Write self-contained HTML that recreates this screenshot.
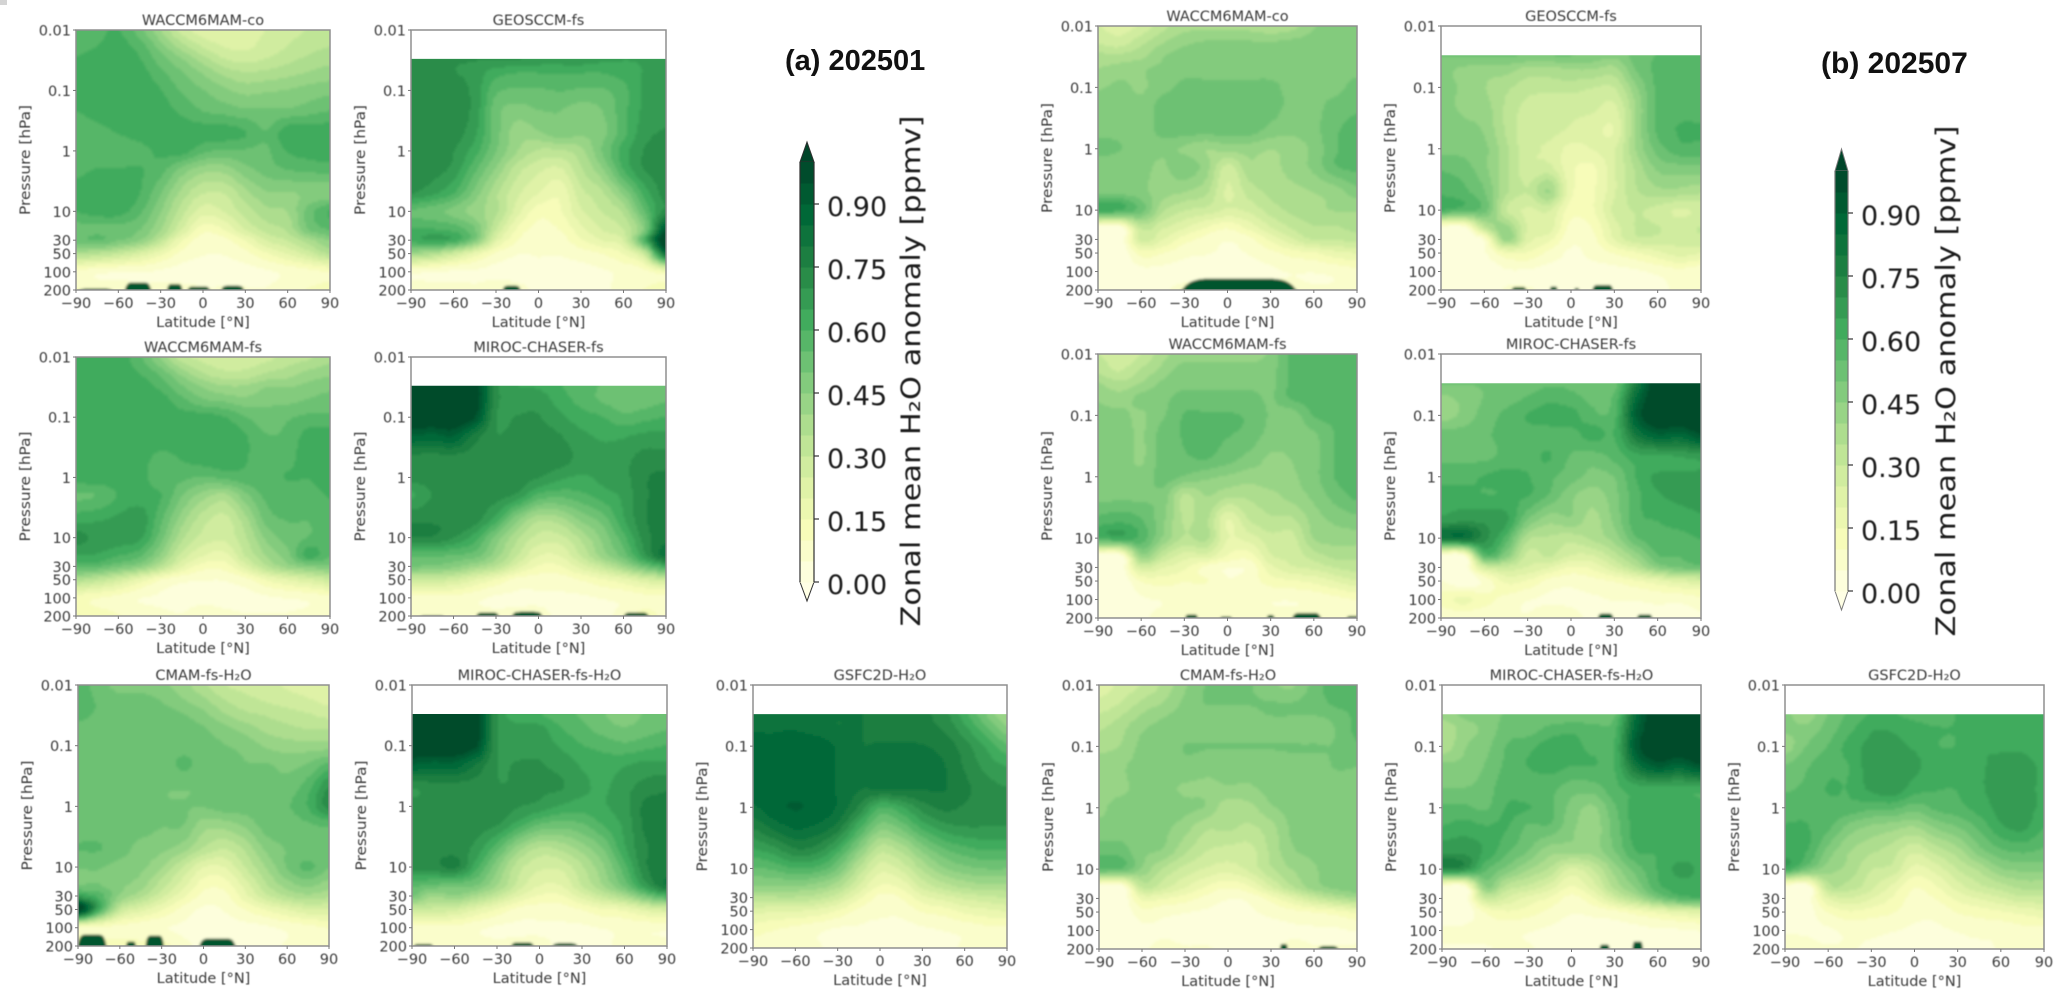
<!DOCTYPE html>
<html lang="en">
<head>
<meta charset="utf-8">
<title>Zonal mean H2O anomaly</title>
<style>
html,body{margin:0;padding:0;background:#fff;width:2067px;height:997px;overflow:hidden}
svg{display:block}
.ax{font-family:"DejaVu Sans","Liberation Sans",sans-serif;font-size:14.5px;fill:#3a3a3a;filter:blur(.4px)}
.cb{font-family:"DejaVu Sans","Liberation Sans",sans-serif;font-size:27px;fill:#1c1c1c;filter:blur(.4px)}
.hd{font-family:"Liberation Sans",sans-serif;font-weight:bold;font-size:29px;fill:#111;filter:blur(.3px)}
</style>
</head>
<body>
<svg id="figure" xmlns="http://www.w3.org/2000/svg" width="2067" height="997" viewBox="0 0 2067 997">
<defs>
<filter id="soft" filterUnits="userSpaceOnUse" x="0" y="0" width="2067" height="997"><feGaussianBlur stdDeviation="1.2"/></filter>
</defs>
<rect width="2067" height="997" fill="#fff"/>
<rect x="0" y="0" width="7" height="5" fill="#d4d4d4"/>
<text class="hd" x="785" y="70">(a) 202501</text>
<text class="hd" x="1821" y="73" style="font-size:30px">(b) 202507</text>
</svg>
<script>
// Axes and tick labels
const latitudes = [-90,-75,-60,-45,-30,-15,0,15,30,45,60,75,90];
const pressureLevels = [0.01,0.02,0.03,0.05,0.1,0.2,0.5,1,2,5,10,20,30,50,100,200];
const latTicks = [-90,-60,-30,0,30,60,90];
const pressureTicks = [0.01,0.1,1,10,30,50,100,200];
const colorbarTicks = [0,0.15,0.30,0.45,0.60,0.75,0.90];
const bandStep = 0.05;
const bandCount = 20;

// Fields in units of 0.01 ppmv. Rows follow the END of pressureLevels, columns follow latitudes.
const fieldA1 = [
[55,58,60,52,40,28,22,20,22,25,28,30,32],
[58,60,62,58,48,38,30,25,24,27,30,33,35],
[60,62,63,60,52,45,37,30,28,30,33,36,38],
[60,63,63,62,56,50,44,38,35,36,38,40,42],
[60,63,64,63,60,54,50,46,43,44,45,47,48],
[60,62,63,63,62,58,54,52,50,50,50,52,54],
[56,58,60,62,63,63,62,62,60,55,63,63,63],
[55,55,56,58,61,62,56,54,54,54,60,62,63],
[58,60,60,60,57,48,42,42,48,52,55,56,57],
[62,63,63,60,50,38,30,30,38,44,44,46,46],
[60,62,62,56,45,32,22,25,32,38,40,52,60],
[52,53,52,50,40,25,12,15,25,32,36,50,55],
[52,55,50,45,32,15,7,8,15,25,30,38,45],
[36,34,30,24,16,8,5,5,8,14,20,27,35],
[8,6,5,5,4,3,3,3,3,4,6,8,10],
[10,8,8,6,6,6,5,5,5,5,8,10,12]];
const fieldA2 = [
[70,70,70,70,70,70,68,68,68,66,65,65,65],
[72,72,70,68,62,60,60,60,60,60,62,65,66],
[72,72,72,68,56,54,54,55,54,54,58,66,66],
[72,72,72,68,52,48,50,50,48,50,58,66,68],
[72,72,72,66,52,42,44,48,46,48,58,68,70],
[72,72,70,62,50,40,34,34,38,50,62,70,70],
[74,72,68,56,44,32,26,24,34,44,60,70,72],
[70,66,60,48,36,26,20,16,28,34,46,62,72],
[54,52,48,42,36,22,12,14,24,30,36,55,72],
[60,60,58,50,30,14,8,10,18,25,30,48,95],
[62,65,62,48,22,10,5,7,14,20,25,60,105],
[40,36,28,18,9,5,5,5,7,10,15,30,85],
[6,5,4,4,3,3,3,3,3,4,6,8,14],
[8,8,8,6,8,6,4,3,3,3,8,10,14]];
const fieldA3 = [
[62,62,62,56,44,32,28,25,26,28,32,34,38],
[62,62,62,60,54,44,36,32,32,36,38,42,44],
[63,63,63,62,58,50,44,40,40,44,44,46,48],
[63,63,63,63,62,56,50,48,46,48,48,50,52],
[63,63,63,63,62,62,62,60,55,52,54,56,56],
[63,63,63,63,63,63,63,63,60,55,56,62,63],
[63,63,63,62,58,60,62,63,60,58,58,63,63],
[63,63,63,62,56,56,54,56,58,58,60,60,62],
[54,55,60,62,60,50,42,38,48,56,57,58,60],
[63,64,66,68,56,42,32,28,38,52,55,55,58],
[72,68,68,66,52,36,28,26,34,46,52,55,58],
[64,64,60,56,44,28,20,18,30,40,48,62,55],
[56,55,50,45,34,20,12,12,22,34,42,46,48],
[36,32,26,18,10,6,5,5,8,15,20,24,28],
[12,10,8,5,4,3,3,3,3,4,5,6,8],
[15,12,10,8,6,5,8,6,5,5,5,6,8]];
const fieldA4 = [
[102,102,102,100,72,65,64,60,58,54,52,52,52],
[102,102,102,100,72,68,68,62,58,54,52,52,54],
[102,102,102,95,70,70,70,66,62,60,56,58,60],
[90,88,90,78,70,72,72,70,66,64,64,66,66],
[72,72,72,72,72,72,72,72,68,66,68,72,72],
[72,72,72,72,72,72,70,66,64,66,68,74,76],
[64,70,72,72,72,68,58,56,58,62,66,74,76],
[74,74,74,72,62,46,36,38,46,52,64,74,78],
[74,74,70,62,48,36,28,28,36,46,58,72,78],
[56,56,54,52,42,30,20,20,30,42,52,68,82],
[50,48,46,40,34,22,14,14,22,30,40,52,60],
[28,28,26,20,14,8,7,7,10,14,18,24,28],
[8,8,8,6,4,4,4,4,4,5,6,8,8],
[8,6,6,6,6,6,6,4,4,4,6,12,8]];
const fieldA5 = [
[58,52,48,48,46,42,36,30,28,26,24,22,20],
[58,54,52,52,50,46,42,36,32,30,28,26,24],
[56,54,53,52,52,50,46,40,36,34,32,30,28],
[54,53,53,53,52,52,50,46,42,38,36,34,34],
[53,53,53,53,52,52,52,50,48,44,42,42,42],
[52,52,52,52,50,56,52,52,50,50,48,50,56],
[52,52,52,52,50,50,50,50,52,52,52,58,70],
[52,52,52,52,50,50,50,52,52,52,54,60,72],
[52,52,52,52,50,50,42,42,46,52,52,54,56],
[55,55,52,48,46,42,34,30,36,46,50,50,50],
[50,50,48,46,40,30,20,20,30,40,50,56,50],
[50,50,46,42,32,22,12,12,22,34,42,46,42],
[66,58,44,36,26,16,8,8,18,28,35,38,36],
[102,62,30,22,15,8,4,5,10,15,20,24,24],
[10,8,8,6,5,4,3,3,3,4,6,8,10],
[25,15,12,12,12,6,4,4,4,4,5,6,8]];
const fieldA6 = [
[102,102,102,100,70,62,60,56,54,50,48,50,50],
[102,102,102,100,70,66,66,60,56,52,50,52,54],
[102,102,102,96,70,68,68,64,60,58,56,58,60],
[90,88,88,80,70,70,70,68,64,62,64,66,66],
[70,72,72,72,70,70,70,70,66,64,68,72,74],
[72,72,72,72,72,70,68,64,62,64,68,76,76],
[74,72,72,72,70,62,54,52,54,60,66,76,78],
[74,72,72,68,56,42,34,36,42,50,64,74,76],
[72,72,76,62,46,32,26,26,34,44,58,74,76],
[56,54,52,50,40,28,20,20,30,40,52,68,80],
[50,40,44,38,30,20,14,14,22,30,38,50,60],
[28,28,26,20,14,8,7,7,10,14,16,22,26],
[8,8,8,6,4,4,4,4,4,5,6,6,6],
[8,6,6,6,6,6,6,4,4,4,6,6,6]];
const fieldA7 = [
[80,80,80,80,80,80,78,78,76,72,62,50,40],
[84,84,84,82,80,80,78,78,76,74,66,56,46],
[86,86,88,88,84,80,80,80,80,78,72,64,56],
[86,88,88,88,84,80,80,80,80,80,74,68,64],
[86,88,88,88,84,80,80,80,80,80,76,72,70],
[84,88,90,88,84,74,60,64,72,76,74,72,72],
[76,82,86,84,78,62,48,52,62,68,70,70,70],
[64,68,74,72,62,46,32,36,46,54,58,60,60],
[54,56,60,58,50,34,22,26,36,44,48,50,50],
[44,44,44,42,36,24,14,16,26,32,36,38,38],
[34,34,34,32,26,16,8,10,18,22,26,28,30],
[22,20,20,18,14,8,6,6,10,12,16,18,20],
[12,10,8,6,4,4,3,3,4,5,6,8,8],
[8,6,6,5,4,3,3,3,3,4,5,6,7]];
const fieldB1 = [
[25,22,26,33,38,38,38,38,36,38,44,48,48],
[30,28,34,40,44,46,46,46,46,47,48,48,48],
[36,36,38,44,47,47,47,48,48,48,48,48,48],
[40,42,44,46,48,48,48,48,48,48,48,48,48],
[44,46,44,48,51,51,51,51,51,48,48,48,52],
[48,48,46,52,52,52,52,52,52,48,48,52,54],
[48,48,46,52,52,52,52,52,48,46,48,54,56],
[52,50,46,46,44,40,42,42,40,42,46,54,56],
[46,46,46,44,48,42,28,38,38,42,46,54,56],
[48,48,46,42,40,36,24,32,36,38,40,42,48],
[62,60,52,36,30,28,24,26,32,36,38,40,40],
[0,0,30,25,20,14,10,16,24,30,34,34,36],
[0,0,26,20,12,8,5,8,16,24,30,30,32],
[0,0,12,10,6,5,4,5,8,12,14,18,20],
[0,0,3,3,3,3,3,3,4,5,5,6,8],
[3,3,3,4,6,6,6,6,6,6,5,5,5]];
const fieldB2 = [
[50,50,50,50,50,50,50,48,46,52,55,56,56],
[46,44,42,42,38,38,40,40,38,50,56,58,58],
[46,44,40,36,32,32,32,30,30,44,56,58,58],
[46,44,42,34,28,26,26,26,24,40,56,58,58],
[48,46,44,34,26,26,24,22,20,40,56,60,60],
[48,48,46,36,26,24,18,20,24,40,52,58,58],
[54,52,46,36,26,26,16,14,24,36,46,48,48],
[58,56,50,36,30,40,16,14,24,34,38,38,36],
[60,56,52,30,24,25,12,14,26,30,28,24,26],
[0,0,30,42,24,22,8,10,22,30,30,28,30],
[0,0,6,42,22,16,6,8,20,28,28,26,28],
[0,0,4,14,14,8,4,6,10,14,18,22,20],
[0,0,1,4,4,3,4,3,3,4,6,8,6],
[3,2,2,5,5,4,4,3,3,3,3,6,6]];
const fieldB3 = [
[30,26,30,38,42,42,42,42,46,56,56,56,56],
[34,30,36,42,48,48,48,48,48,56,57,57,57],
[40,36,40,46,48,48,48,48,48,56,57,57,57],
[44,42,46,48,52,52,52,52,49,56,57,57,57],
[46,46,44,49,55,55,55,54,49,47,55,56,56],
[48,48,44,52,55,55,55,53,48,47,49,55,56],
[48,48,44,52,54,55,52,48,44,45,48,55,56],
[48,48,46,52,49,46,44,42,44,44,48,55,56],
[48,48,48,48,34,40,36,36,38,42,46,52,56],
[56,58,55,46,34,36,20,30,34,34,42,46,48],
[60,62,58,44,34,36,20,22,28,28,40,42,42],
[0,0,42,30,22,22,14,12,24,26,32,36,36],
[0,0,25,20,16,8,5,6,18,24,26,30,32],
[0,0,10,12,10,10,5,7,12,14,16,20,24],
[0,0,4,5,6,6,5,5,5,5,6,8,10],
[4,4,4,6,6,6,6,6,6,6,6,6,10]];
const fieldB4 = [
[50,50,50,50,52,54,54,54,52,78,102,102,102],
[44,46,50,52,55,58,56,54,56,85,102,102,102],
[42,46,52,56,60,62,62,56,58,90,102,102,102],
[52,52,54,56,58,58,58,62,60,80,90,88,95],
[54,54,54,56,58,60,54,52,56,62,62,64,66],
[58,58,60,62,60,56,52,48,50,60,66,66,66],
[62,62,60,60,60,54,46,42,48,58,64,66,66],
[66,68,68,66,50,42,44,38,46,58,60,62,64],
[80,82,72,58,36,34,32,36,42,54,58,58,60],
[0,0,55,46,28,30,24,24,32,42,54,55,56],
[0,0,25,28,24,20,14,16,24,34,45,50,52],
[5,0,6,16,14,8,6,8,10,14,18,22,24],
[12,16,12,8,5,4,4,4,5,5,6,6,8],
[5,5,5,5,5,8,6,4,4,4,4,4,4]];
const fieldB5 = [
[22,26,30,36,44,50,50,50,46,44,52,58,58],
[26,30,36,40,46,50,50,50,50,50,52,56,58],
[30,34,40,44,46,46,46,48,50,50,50,52,56],
[34,38,44,46,46,46,46,46,46,46,46,50,56],
[38,40,46,46,50,50,50,50,50,50,50,50,54],
[42,44,46,46,48,46,46,46,46,48,48,50,50],
[44,44,46,46,44,44,44,44,46,46,48,48,48],
[44,46,46,49,46,44,36,38,44,46,48,48,48],
[46,46,46,46,42,36,36,34,38,46,48,48,48],
[52,52,46,44,36,30,28,28,36,44,46,48,48],
[56,54,44,34,28,24,22,26,34,40,44,48,48],
[0,0,30,26,20,14,10,14,24,34,42,46,48],
[0,0,16,15,12,8,5,6,12,20,28,34,38],
[0,0,8,6,5,4,3,4,6,8,10,12,16],
[0,0,3,4,3,3,3,3,3,4,4,4,5],
[3,2,4,6,5,5,4,4,4,6,5,5,5]];
const fieldB6 = [
[42,46,48,50,50,50,50,52,54,85,102,102,102],
[36,42,46,52,52,56,58,56,58,88,102,102,102],
[36,44,48,55,58,62,62,58,60,92,102,102,102],
[46,46,50,56,60,62,60,60,60,82,92,88,95],
[50,50,52,58,56,56,52,52,58,62,62,62,62],
[56,56,54,60,60,56,48,44,54,62,62,62,62],
[60,62,60,60,54,54,46,42,52,62,62,62,62],
[68,68,64,56,50,42,42,42,50,60,60,62,62],
[74,70,56,48,40,34,24,30,42,52,60,66,64],
[0,0,44,32,28,22,14,22,36,46,58,62,62],
[0,0,28,24,18,14,8,14,26,36,48,56,58],
[0,0,10,14,12,8,5,6,8,12,16,20,22],
[6,6,8,6,5,4,3,3,3,3,4,4,5],
[4,4,4,6,5,4,4,4,3,3,3,3,3]];
const fieldB7 = [
[46,42,50,56,60,60,58,56,60,62,62,62,62],
[46,46,52,58,64,64,62,60,60,62,63,63,62],
[42,50,55,62,66,66,64,60,60,64,64,64,62],
[50,54,58,60,68,68,66,62,62,64,66,66,64],
[54,56,60,60,66,68,62,60,60,64,66,66,64],
[58,58,58,58,56,56,52,56,58,62,66,66,64],
[60,60,56,48,44,42,40,46,50,56,64,66,60],
[62,60,48,40,36,32,26,32,38,48,54,56,54],
[62,50,42,38,30,28,18,22,30,36,44,46,46],
[0,0,32,32,26,18,10,14,22,28,32,36,36],
[1,2,20,24,20,14,8,10,16,20,24,28,28],
[2,2,10,14,12,10,6,6,10,12,14,16,18],
[4,4,4,6,6,5,4,4,5,6,6,8,8],
[8,6,5,5,4,3,3,3,4,4,5,6,6]];

// Near-tropopause maxima: [centre latitude, half width in degrees, pressure of top in hPa]
const blobsA1 = [[-76,14,190],[-46,10,150],[-20,6,160],[-3,9,175],[21,9,170]];
const blobsA2 = [[-19,7,170]];
const blobsA3 = [];
const blobsA4 = [[-75,10,195],[-36,9,175],[-8,12,170],[69,10,175]];
const blobsA5 = [[-80,11,130],[-52,4,170],[-35,7,135],[10,14,150]];
const blobsA6 = [[-82,8,185],[-12,9,175],[18,10,180]];
const blobsA7 = [];
const blobsB1 = [[8,42,130]];
const blobsB2 = [[-36,6,180],[-12,3,175],[4,2,185],[22,8,165]];
const blobsB3 = [[-25,5,175],[-1,5,190],[30,3,180],[55,11,165],[88,6,185]];
const blobsB4 = [[24,6,170],[51,6,175]];
const blobsB5 = [[39,3,165],[70,8,180]];
const blobsB6 = [[23,4,170],[46,4,150]];
const blobsB7 = [];

const panels = [
{id:'a1',title:'WACCM6MAM-co',field:fieldA1,blobs:blobsA1,box:[76,30,330,290]},
{id:'a2',title:'GEOSCCM-fs',field:fieldA2,blobs:blobsA2,box:[411,30,666,290]},
{id:'a3',title:'WACCM6MAM-fs',field:fieldA3,blobs:blobsA3,box:[76,357,330,616]},
{id:'a4',title:'MIROC-CHASER-fs',field:fieldA4,blobs:blobsA4,box:[411,357,666,616]},
{id:'a5',title:'CMAM-fs-H₂O',field:fieldA5,blobs:blobsA5,box:[78,685,329,946]},
{id:'a6',title:'MIROC-CHASER-fs-H₂O',field:fieldA6,blobs:blobsA6,box:[412,685,667,946]},
{id:'a7',title:'GSFC2D-H₂O',field:fieldA7,blobs:blobsA7,box:[753,685,1007,948]},
{id:'b1',title:'WACCM6MAM-co',field:fieldB1,blobs:blobsB1,box:[1098,26,1357,290]},
{id:'b2',title:'GEOSCCM-fs',field:fieldB2,blobs:blobsB2,box:[1441,26,1701,290]},
{id:'b3',title:'WACCM6MAM-fs',field:fieldB3,blobs:blobsB3,box:[1098,354,1357,618]},
{id:'b4',title:'MIROC-CHASER-fs',field:fieldB4,blobs:blobsB4,box:[1441,354,1701,618]},
{id:'b5',title:'CMAM-fs-H₂O',field:fieldB5,blobs:blobsB5,box:[1099,685,1357,949]},
{id:'b6',title:'MIROC-CHASER-fs-H₂O',field:fieldB6,blobs:blobsB6,box:[1442,685,1701,949]},
{id:'b7',title:'GSFC2D-H₂O',field:fieldB7,blobs:blobsB7,box:[1785,685,2044,949]}
];

const NS = 'http://www.w3.org/2000/svg';
const fig = document.getElementById('figure');
const ylgnStops = [[255,255,229],[247,252,185],[217,240,163],[173,221,142],[120,198,121],[65,171,93],[35,132,67],[0,104,55],[0,69,41]];

function make(tag, attrs, parent, text) {
  const e = document.createElementNS(NS, tag);
  for (const k in attrs) e.setAttribute(k, attrs[k]);
  if (text !== undefined) e.textContent = text;
  parent.appendChild(e);
  return e;
}
function ylgn(t) {
  const s = Math.max(0, Math.min(0.9999, t)) * (ylgnStops.length - 1);
  const i = Math.floor(s), f = s - i, a = ylgnStops[i], b = ylgnStops[i + 1];
  return 'rgb(' + [0,1,2].map(c => Math.round(a[c] + (b[c] - a[c]) * f)).join(',') + ')';
}
const bandColors = [];
for (let i = 0; i < bandCount; i++) bandColors.push(ylgn((i + 0.5) / bandCount));
function bandOf(v) { return Math.max(0, Math.min(bandCount - 1, Math.floor((v + 0.003) / bandStep))); }

const logLevels = pressureLevels.map(Math.log10);
function levelIndex(lp) {
  for (let i = 0; i < logLevels.length - 1; i++) {
    if (lp <= logLevels[i + 1]) return i + (lp - logLevels[i]) / (logLevels[i + 1] - logLevels[i]);
  }
  return logLevels.length - 1;
}
function cr(p0, p1, p2, p3, t) {
  return 0.5 * (2 * p1 + (p2 - p0) * t + (2 * p0 - 5 * p1 + 4 * p2 - p3) * t * t + (3 * p1 - p0 - 3 * p2 + p3) * t * t * t);
}
function sampleField(field, ri, ci) {
  const nr = field.length, nc = field[0].length;
  ri = Math.max(0, Math.min(nr - 1, ri));
  ci = Math.max(0, Math.min(nc - 1, ci));
  const r1 = Math.min(nr - 1, Math.floor(ri)), c1 = Math.min(nc - 1, Math.floor(ci));
  const tr = ri - r1, tc = ci - c1;
  const vals = [];
  for (let k = -1; k <= 2; k++) {
    const row = field[Math.max(0, Math.min(nr - 1, r1 + k))];
    vals.push(cr(row[Math.max(0, c1 - 1)], row[c1], row[Math.min(nc - 1, c1 + 1)], row[Math.min(nc - 1, c1 + 2)], tc));
  }
  return cr(vals[0], vals[1], vals[2], vals[3], tr) / 100;
}

function drawPanel(p) {
  const [x0, y0, x1, y1] = p.box;
  const logTop = Math.log10(pressureLevels[0]);
  const logBot = Math.log10(pressureLevels[pressureLevels.length - 1]);
  const xScale = lat => x0 + (lat - latitudes[0]) / (latitudes[latitudes.length - 1] - latitudes[0]) * (x1 - x0);
  const yScale = pr => y0 + (Math.log10(pr) - logTop) / (logBot - logTop) * (y1 - y0);
  const xInv = px => latitudes[0] + (px - x0) / (x1 - x0) * (latitudes[latitudes.length - 1] - latitudes[0]);
  const yInv = py => logTop + (py - y0) / (y1 - y0) * (logBot - logTop);
  const latStep = latitudes[1] - latitudes[0];
  const offset = pressureLevels.length - p.field.length;
  const fieldTopY = yScale(pressureLevels[offset]);

  const g = make('g', {}, fig);
  
  

  const clip = make('clipPath', {id: 'clip-' + p.id}, g);
  make('rect', {x: x0, y: fieldTopY, width: x1 - x0, height: y1 - fieldTopY}, clip);
  const clipG = make('g', {'clip-path': 'url(#clip-' + p.id + ')'}, g);
  const mesh = make('g', {filter: 'url(#soft)', 'shape-rendering': 'crispEdges'}, clipG);
  
  

  const step = 2;
  for (let py = Math.floor(fieldTopY) - 4; py < y1 + 4; py += step) {
    const ri = levelIndex(yInv(py + step / 2)) - offset;
    let runStart = x0 - 4, runBand = -1;
    for (let px = x0 - 4; px <= x1 + 4 + step; px += step) {
      const ci = (xInv(px + step / 2) - latitudes[0]) / latStep;
      const b = px > x1 + 4 ? -2 : bandOf(sampleField(p.field, ri, ci));
      if (b !== runBand) {
        if (runBand >= 0) {
          const cell = make('rect', {x: runStart, y: py, width: px - runStart + 0.5, height: step + 0.5, fill: bandColors[runBand]}, mesh);
          
          
        }
        runStart = px;
        runBand = b;
      }
    }
  }
  p.blobs.forEach(bl => {
    const xa = xScale(bl[0] - bl[1]), xb = xScale(bl[0] + bl[1]), yt = yScale(bl[2]);
    const w = xb - xa, yb = y1 + 4;
    const d = 'M' + xa + ' ' + yb +
      ' C' + (xa + w * 0.08) + ' ' + yt + ' ' + (xa + w * 0.16) + ' ' + yt + ' ' + (xa + w * 0.3) + ' ' + yt +
      ' L' + (xb - w * 0.3) + ' ' + yt +
      ' C' + (xb - w * 0.16) + ' ' + yt + ' ' + (xb - w * 0.08) + ' ' + yt + ' ' + xb + ' ' + yb + ' Z';
    const blob = make('path', {d: d, fill: '#00552f'}, mesh);
    
    
  });

  const frame = make('rect', {x: x0, y: y0, width: x1 - x0, height: y1 - y0, fill: 'none', stroke: '#8f8f8f', 'stroke-width': 1.5}, g);
  
  

  const title = make('text', {class: 'ax', x: (x0 + x1) / 2, y: y0 - 5, 'text-anchor': 'middle'}, g, p.title);
  
  

  latTicks.forEach(lat => {
    const tx = xScale(lat);
    make('line', {x1: tx, x2: tx, y1: y1, y2: y1 + 3, stroke: '#777', 'stroke-width': 1}, g);
    const lab = make('text', {class: 'ax', x: tx, y: y1 + 18, 'text-anchor': 'middle'}, g, String(lat).replace('-', '\u2212'));
    
    
  });
  pressureTicks.forEach(pr => {
    const ty = yScale(pr);
    make('line', {x1: x0 - 3, x2: x0, y1: ty, y2: ty, stroke: '#777', 'stroke-width': 1}, g);
    const lab = make('text', {class: 'ax', x: x0 - 5, y: ty + 5.5, 'text-anchor': 'end'}, g, String(pr));
    
    
  });
  const xt = make('text', {class: 'ax', x: (x0 + x1) / 2, y: y1 + 37, 'text-anchor': 'middle'}, g, 'Latitude [°N]');
  
  
  const yx = x0 - 46, ym = (y0 + y1) / 2;
  const yt = make('text', {class: 'ax', x: yx, y: ym, 'text-anchor': 'middle', transform: 'rotate(-90 ' + yx + ' ' + ym + ')', textLength: 110, lengthAdjust: 'spacingAndGlyphs'}, g, 'Pressure [hPa]');
  
  
}

function drawColorbar(c) {
  const g = make('g', {}, fig);
  
  
  const cbY = v => c.zeroY - v / 0.15 * c.tickGap;
  const xm = (c.x0 + c.x1) / 2;
  const topY = cbY(bandStep * bandCount);
  make('path', {d: 'M' + c.x0 + ' ' + topY + ' L' + xm + ' ' + c.tipTop + ' L' + c.x1 + ' ' + topY + ' Z', fill: '#004529', stroke: c.edge, 'stroke-width': 1}, g);
  make('path', {d: 'M' + c.x0 + ' ' + c.zeroY + ' L' + xm + ' ' + c.tipBot + ' L' + c.x1 + ' ' + c.zeroY + ' Z', fill: '#ffffe5', stroke: c.edge, 'stroke-width': 1}, g);
  for (let i = 0; i < bandCount; i++) {
    const ya = cbY((i + 1) * bandStep), yb = cbY(i * bandStep);
    const seg = make('rect', {x: c.x0, y: ya, width: c.x1 - c.x0, height: yb - ya + 0.5, fill: bandColors[i]}, g);
    
    
  }
  make('line', {x1: c.x0, x2: c.x0, y1: topY, y2: c.zeroY, stroke: c.edge, 'stroke-width': 1.2}, g);
  make('line', {x1: c.x1, x2: c.x1, y1: topY, y2: c.zeroY, stroke: c.edge, 'stroke-width': 1.2}, g);
  colorbarTicks.forEach(v => {
    const ty = cbY(v);
    make('line', {x1: c.x1, x2: c.x1 + 5, y1: ty, y2: ty, stroke: '#333', 'stroke-width': 1.2}, g);
    const lab = make('text', {class: 'cb', x: c.labelX, y: ty + 12}, g, v.toFixed(2));
    
    
  });
  const t = make('text', {class: 'cb', x: c.titleX, y: c.titleY, 'text-anchor': 'middle', transform: 'rotate(-90 ' + c.titleX + ' ' + c.titleY + ')', textLength: 511, lengthAdjust: 'spacingAndGlyphs'}, g, 'Zonal mean H₂O anomaly [ppmv]');
  
  
}

panels.forEach(drawPanel);
drawColorbar({id:'a',x0:800,x1:814,zeroY:582,tickGap:63,tipTop:142,tipBot:601,labelX:827,titleX:920,titleY:371,edge:'#2e2e2e'});
drawColorbar({id:'b',x0:1835,x1:1848,zeroY:591,tickGap:63,tipTop:149,tipBot:610,labelX:1861,titleX:1955,titleY:381,edge:'#777'});
</script>
</body>
</html>
